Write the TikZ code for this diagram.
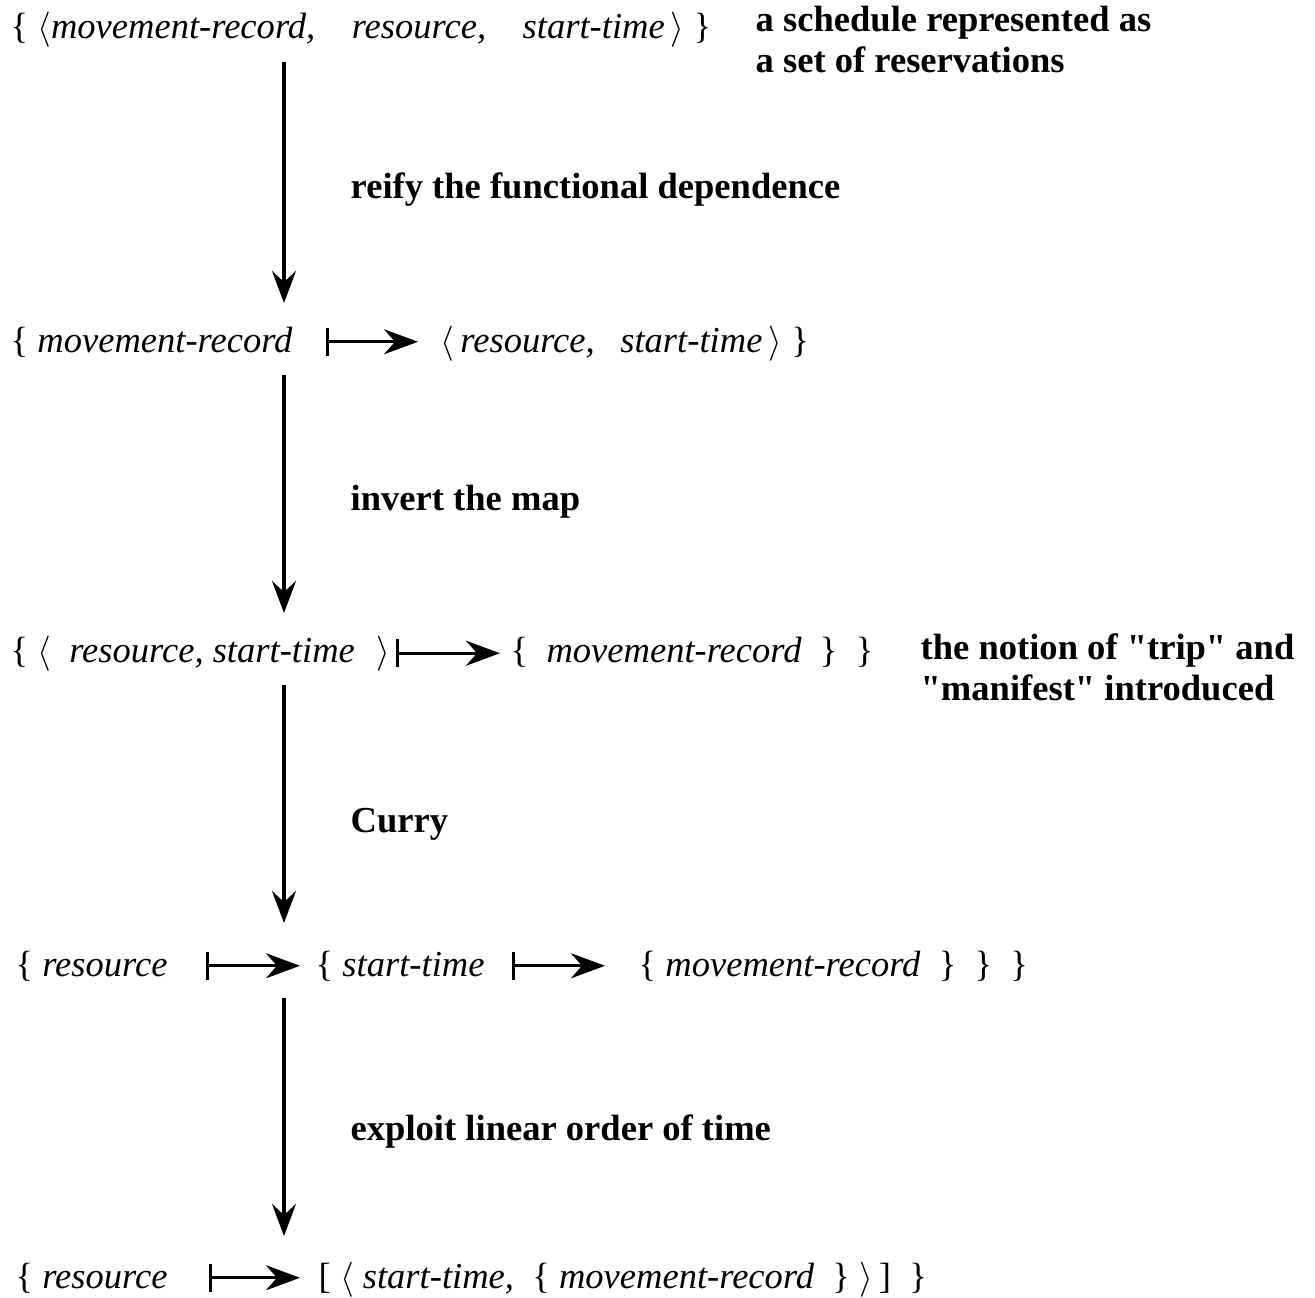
\documentclass[tikz,border=0pt]{standalone}
\usepackage{fontspec}
\setmainfont{Liberation Serif}
\usetikzlibrary{arrows.meta}

\begin{document}
\begin{tikzpicture}[
    expr/.style={anchor=base west, inner sep=0pt, font=\fontsize{10.4}{12}\selectfont},
    note/.style={anchor=base west, inner sep=0pt, align=left, font=\fontsize{10.4}{11.4}\selectfont\bfseries},
    derive/.style={line width=0.9pt, -{Stealth[length=3.2mm,width=2.4mm,inset=1.1mm]}},
    maps/.style={line width=0.9pt, {Bar[width=2.8mm]}-{Stealth[length=3.4mm,width=2.5mm,inset=1.1mm]}}
  ]
  \useasboundingbox (0,0) rectangle (13.15,-12.98);

  \node[expr] (r1) at (0.10,-0.38) {\{ $\langle$\textit{movement-record,}\quad\textit{resource,}\quad\textit{start-time}\,$\rangle$ \}};
  \node[note] (n1) at (7.55,-0.72) {a schedule represented as\\a set of reservations};

  \node[expr] (r2a) at (0.10,-3.52) {\{ \textit{movement-record}};
  \node[expr] (r2b) at (4.40,-3.52) {$\langle$\,\textit{resource,}\hspace{0.7em}\textit{start-time}\,$\rangle$\ \}};

  \node[expr] (r3a) at (0.10,-6.62) {\{ $\langle$\ \ \textit{resource,}\ \textit{start-time}\hspace{0.6em}$\rangle$};
  \node[expr] (r3b) at (5.10,-6.62) {\{\ \ \textit{movement-record}\ \ \}\ \ \}};
  \node[note] (n3) at (9.20,-7.00) {the notion of \textquotedbl trip\textquotedbl{} and\\\textquotedbl manifest\textquotedbl{} introduced};

  \node[expr] (r4a) at (0.15,-9.76) {\{ \textit{resource}};
  \node[expr] (r4b) at (3.15,-9.76) {\{ \textit{start-time}};
  \node[expr] (r4c) at (6.38,-9.76) {\{ \textit{movement-record}\ \ \}\ \ \}\ \ \}};

  \node[expr] (r5a) at (0.15,-12.88) {\{ \textit{resource}};
  \node[expr] (r5b) at (3.18,-12.88) {[ $\langle$\ \textit{start-time,}\ \ \{ \textit{movement-record}\ \ \}\ $\rangle$\,]\ \ \}};

  \node[note] (l1) at (3.50,-1.98) {reify the functional dependence};
  \node[note] (l2) at (3.50,-5.10) {invert the map};
  \node[note] (l3) at (3.50,-8.32) {Curry};
  \node[note] (l4) at (3.50,-11.40) {exploit linear order of time};

  \coordinate (a1) at (2.84,-0.62);
  \coordinate (b1) at (2.84,-3.03);
  \coordinate (a2) at (2.84,-3.75);
  \coordinate (b2) at (2.84,-6.13);
  \coordinate (a3) at (2.84,-6.85);
  \coordinate (b3) at (2.84,-9.23);
  \coordinate (a4) at (2.84,-9.98);
  \coordinate (b4) at (2.84,-12.36);
  \draw[derive] (a1) -- (b1);
  \draw[derive] (a2) -- (b2);
  \draw[derive] (a3) -- (b3);
  \draw[derive] (a4) -- (b4);

  \draw[maps, shorten <=0.33cm, shorten >=0.22cm] (r2a.east) -- (r2a.east -| r2b.west);
  \draw[maps, shorten <=0.05cm, shorten >=0.10cm] (r3a.east) -- (r3a.east -| r3b.west);
  \draw[maps, shorten <=0.38cm, shorten >=0.15cm] (r4a.east) -- (r4a.east -| r4b.west);
  \draw[maps, shorten <=0.27cm, shorten >=0.33cm] (r4b.east) -- (r4b.east -| r4c.west);
  \draw[maps, shorten <=0.41cm, shorten >=0.18cm] (r5a.east) -- (r5a.east -| r5b.west);
\end{tikzpicture}
\end{document}
